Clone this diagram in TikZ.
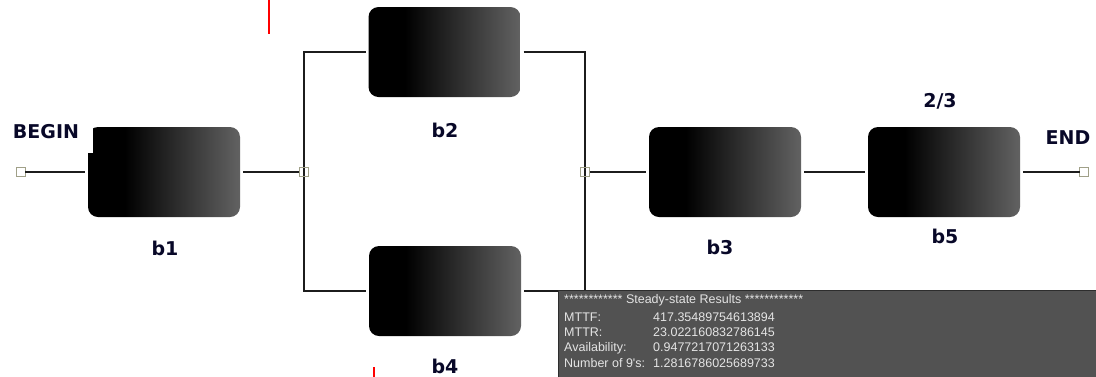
\documentclass[tikz,border=0pt]{standalone}
\usepackage{fontspec}
\setmainfont{DejaVu Sans}
\newfontfamily\panelfont{Liberation Sans}
\definecolor{blockgray}{RGB}{98,98,98}
\definecolor{labelink}{RGB}{8,8,40}
\definecolor{termline}{RGB}{160,160,136}
\definecolor{wireink}{RGB}{28,28,28}
\definecolor{panelbg}{RGB}{82,82,82}
\definecolor{panelrim}{RGB}{45,45,45}
\definecolor{panelink}{RGB}{228,228,228}
% black on the left quarter, then a ramp to grey at the right edge
\pgfdeclarehorizontalshading{blockshade}{100bp}{color(0bp)=(black); color(37bp)=(black); color(75bp)=(blockgray); color(100bp)=(blockgray)}
\tikzset{
  block/.style={shade, shading=blockshade, rounded corners=10pt, minimum width=152pt,
                minimum height=90pt, inner sep=0pt, outer sep=3pt},
  term/.style={draw=termline, fill=white, line width=1.2pt, minimum size=8.5pt, inner sep=0pt, outer sep=0pt},
  wire/.style={draw=wireink, line width=1.7pt},
  blocklabel/.style={text=labelink, font=\fontsize{19}{22}\selectfont\bfseries, anchor=base, inner sep=0pt},
  paneltext/.style={text=panelink, font=\panelfont\fontsize{12.5}{14}\selectfont, anchor=base west, inner sep=0pt},
  marker/.style={draw=red, line width=2pt}
}
\begin{document}
\begin{tikzpicture}[x=1pt, y=-1pt]
\useasboundingbox (0,0) rectangle (1096,376);

% blocks
\node[block] (b1) at (164,172) {};
\fill[white] (87,125) rectangle (93,153);
\node[block] (b2) at (444.5,52) {};
\node[block] (b4) at (445,291) {};
\node[block] (b3) at (725,172) {};
\node[block] (b5) at (944,172) {};

% terminals and junctions
\node[term] (begin) at (21,172) {};
\node[term] (end) at (1084,172) {};
\node[term] (j1) at (304,172) {};
\node[term] (j2) at (585,172) {};

% connectors
\draw[wire] (begin.east) -- (b1);
\draw[wire] (b1) -- (j1.center);
\draw[wire] (j1.center) |- (b2);
\draw[wire] (j1.center) |- (b4);
\draw[wire] (b2) -| (j2.center);
\draw[wire] (b4) -| (j2.center);
\draw[wire] (j2.center) -- (b3);
\draw[wire] (b3) -- (b5);
\draw[wire] (b5) -- (end.west);
\node[term] at (j1) {};
\node[term] at (j2) {};
\draw[wire] (j1.north) -- (j1.south);
\draw[wire] (j2.north) -- (j2.south);

% labels
\node[blocklabel] (lbegin) at (46,138) {BEGIN};
\node[blocklabel] (lend) at (1068,144) {END};
\node[blocklabel] (lb1) at (165,255) {b1};
\node[blocklabel] (lb2) at (445,137) {b2};
\node[blocklabel] (lb3) at (720,254) {b3};
\node[blocklabel] (lb4) at (445,373) {b4};
\node[blocklabel] (lb5) at (945,243) {b5};
\node[blocklabel] (lvote) at (940,107) {2/3};

% red markers
\draw[marker] (269,0) -- (269,34);
\draw[marker] (374,367) -- (374,377);

% results panel
\fill[panelbg] (558,290) rectangle (1097,377);
\draw[panelrim, line width=1.2pt] (558.6,377) -- (558.6,290.6) -- (1097,290.6);
\node[paneltext] (hdr) at (564,303) {************ Steady-state Results ************};
\node[paneltext] (k1) at (564,321) {MTTF:};
\node[paneltext] (v1) at (653,321) {417.35489754613894};
\node[paneltext] (k2) at (564,336) {MTTR:};
\node[paneltext] (v2) at (653,336) {23.022160832786145};
\node[paneltext] (k3) at (564,351.5) {Availability:};
\node[paneltext] (v3) at (653,351.5) {0.9477217071263133};
\node[paneltext] (k4) at (564,367) {Number of 9's:};
\node[paneltext] (v4) at (653,367) {1.2816786025689733};
\end{tikzpicture}
\end{document}
